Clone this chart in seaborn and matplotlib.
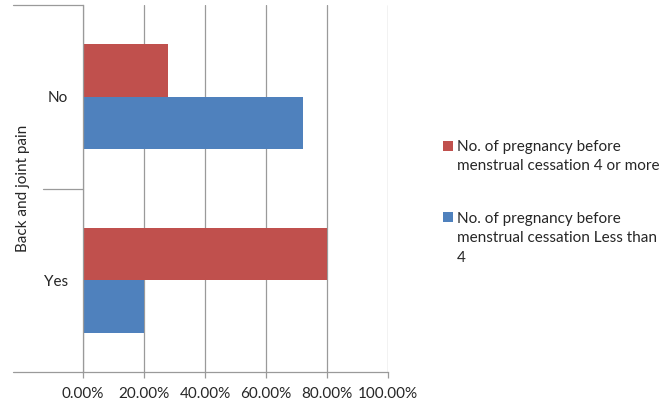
import matplotlib
matplotlib.use("Agg")
import matplotlib.pyplot as plt
import seaborn as sns
import pandas as pd
from matplotlib.patches import Rectangle
from matplotlib.legend_handler import HandlerPatch

# ---- data -------------------------------------------------------------
categories = ["No", "Yes"]
series_labels = [
    "No. of pregnancy before\nmenstrual cessation 4 or more",
    "No. of pregnancy before\nmenstrual cessation Less than\n4",
]
four_or_more = [28.0, 80.0]      # percent
less_than_four = [72.0, 20.0]    # percent
x_ticks = [0, 20, 40, 60, 80, 100]
axis_title = "Back and joint pain"

colors = ["#C0504D", "#4F81BD"]
line_color = "#9A9A9A"
text_color = "#262626"

df = pd.DataFrame({
    "pain": categories * 2,
    "group": [series_labels[0]] * len(categories) + [series_labels[1]] * len(categories),
    "pct": four_or_more + less_than_four,
})

# ---- figure -----------------------------------------------------------
sns.set_theme(style="white")
plt.rcParams["font.family"] = ["Lato", "DejaVu Sans"]
FS = 11
plt.rcParams["font.size"] = FS

fig = plt.figure(figsize=(6.7, 4.0), dpi=100)
W, H = 670, 400
left, right, top, bottom = 83, 388, 5, 372
ax = fig.add_axes([left / W, 1 - bottom / H, (right - left) / W, (bottom - top) / H])

sns.barplot(data=df, y="pain", x="pct", hue="group", order=categories,
            hue_order=series_labels, palette=colors, width=0.57,
            saturation=1, linewidth=0, orient="h", legend=False, ax=ax)

ax.set_xlim(0, 100)
ax.set_ylim(1.5, -0.5)
ax.set_xticks(x_ticks)
ax.set_xticklabels([f"{v:.2f}%" for v in x_ticks])
ax.set_xlabel("")

# gridlines and axis lines
ax.set_axisbelow(True)
ax.xaxis.grid(True, color=line_color, linewidth=0.9)
for side in ("top", "right"):
    ax.spines[side].set_visible(False)
for side in ("left", "bottom"):
    ax.spines[side].set_color(line_color)
    ax.spines[side].set_linewidth(0.9)

ax.tick_params(axis="x", direction="out", length=4, width=0.9, color=line_color,
               pad=7, labelsize=FS, labelcolor=text_color, bottom=True)
ax.tick_params(axis="y", length=0, pad=11, labelsize=FS, labelcolor=text_color)

# multi-level category dividers on the left
ax_w = right - left
outer_x = (13 - left) / ax_w
inner_x = (43 - left) / ax_w
ytrans = ax.get_yaxis_transform()
for y, x0 in [(-0.5, outer_x), (0.5, inner_x), (1.5, outer_x)]:
    ax.plot([x0, 0], [y, y], color=line_color, linewidth=0.9,
            transform=ytrans, clip_on=False)

ax.set_ylabel(axis_title, fontsize=FS, color=text_color)
ax.yaxis.set_label_coords((30 - left) / ax_w, 0.5)


# ---- legend: swatch aligned with the first text line ----------------------
class FirstLinePatch(HandlerPatch):
    def __init__(self, n_lines, step, **kw):
        super().__init__(**kw)
        self.n_lines = n_lines
        self.step = step

    def create_artists(self, legend, orig_handle, xdescent, ydescent,
                       width, height, fontsize, trans):
        shift = (self.n_lines - 1) / 2 * self.step * fontsize
        p = Rectangle((-xdescent, -ydescent + shift), width, height,
                      facecolor=orig_handle.get_facecolor(), edgecolor="none",
                      transform=trans)
        return [p]


handles = [Rectangle((0, 0), 1, 1, facecolor=c, edgecolor="none") for c in colors]
step = 1.42
leg = fig.legend(
    handles, series_labels, loc="upper left",
    bbox_to_anchor=(443 / W, 1 - 140 / H), frameon=False,
    borderaxespad=0, borderpad=0, handlelength=0.65, handleheight=0.65,
    handletextpad=0.25, labelspacing=2.5, fontsize=FS,
    handler_map={handles[0]: FirstLinePatch(2, step),
                 handles[1]: FirstLinePatch(3, step)},
)
for t in leg.get_texts():
    t.set_color(text_color)
    t.set_linespacing(1.5)

fig.savefig("out.png", dpi=100, facecolor="white")
